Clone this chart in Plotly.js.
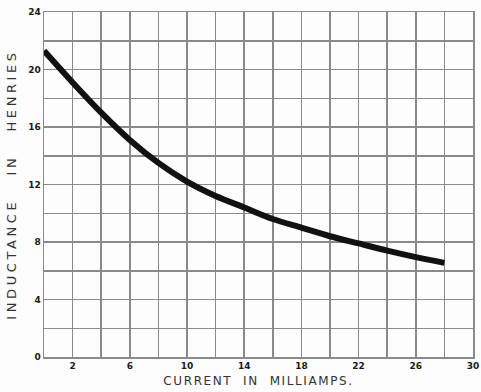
<!DOCTYPE html>
<html>
<head>
<meta charset="utf-8">
<script src="https://cdn.plot.ly/plotly-3.0.1.min.js"></script>
<style>
html,body{margin:0;padding:0;background:#fdfdfd;}
#chart .xtitle{letter-spacing:1.6px;}
#chart .ytitle{letter-spacing:3.6px;}
</style>
</head>
<body>
<div id="chart" style="width:481px;height:392px;"></div>
<script>
// Current in milliamps
const current = [0, 2, 4, 6, 8, 10, 12, 14, 16, 18, 20, 22, 24, 26, 28];
// Inductance in henries
const inductance = [21.3, 19.1, 17.0, 15.1, 13.5, 12.2, 11.2, 10.4, 9.6, 9.0, 8.4, 7.9, 7.4, 6.95, 6.55];
const xTicks = [2, 6, 10, 14, 18, 22, 26, 30];
const yTicks = [0, 4, 8, 12, 16, 20, 24];

const gridColor = '#8a8a8a';
const tickFont = {family: 'DejaVu Sans', size: 9, color: '#1a1a1a', weight: 'bold'};

Plotly.newPlot('chart', [{
  x: current, y: inductance, type: 'scatter', mode: 'lines',
  line: {color: '#111', width: 6, shape: 'spline', smoothing: 0.8},
  hoverinfo: 'skip'
}], {
  width: 481, height: 392,
  margin: {l: 44, r: 8, t: 12, b: 35},
  paper_bgcolor: '#fdfdfd', plot_bgcolor: '#fdfdfd',
  showlegend: false,
  xaxis: {
    range: [0, 30], tickvals: xTicks, ticktext: xTicks.map(String),
    showgrid: true, gridcolor: gridColor, gridwidth: 1.5,
    minor: {dtick: 2, tick0: 0, showgrid: true, gridcolor: gridColor, gridwidth: 1.5},
    showline: true, linecolor: gridColor, linewidth: 1.5, mirror: true,
    zeroline: false, ticks: '', ticklen: 0,
    tickfont: tickFont,
    title: {text: 'CURRENT\u00A0 IN\u00A0 MILLIAMPS.', font: {family: 'DejaVu Sans', size: 12, color: '#333'}, standoff: 6}
  },
  yaxis: {
    range: [0, 24], tickvals: yTicks, ticktext: yTicks.map(String),
    showgrid: true, gridcolor: gridColor, gridwidth: 1.5,
    minor: {dtick: 2, tick0: 0, showgrid: true, gridcolor: gridColor, gridwidth: 1.5},
    showline: true, linecolor: gridColor, linewidth: 1.5, mirror: true,
    zeroline: false, ticks: '', ticklen: 0,
    tickfont: tickFont,
    title: {text: 'INDUCTANCE\u00A0\u00A0 IN\u00A0\u00A0 HENRIES\u00A0\u00A0\u00A0', font: {family: 'DejaVu Sans', size: 13, color: '#333'}, standoff: 8}
  }
}, {staticPlot: true, displayModeBar: false});
</script>
</body>
</html>
